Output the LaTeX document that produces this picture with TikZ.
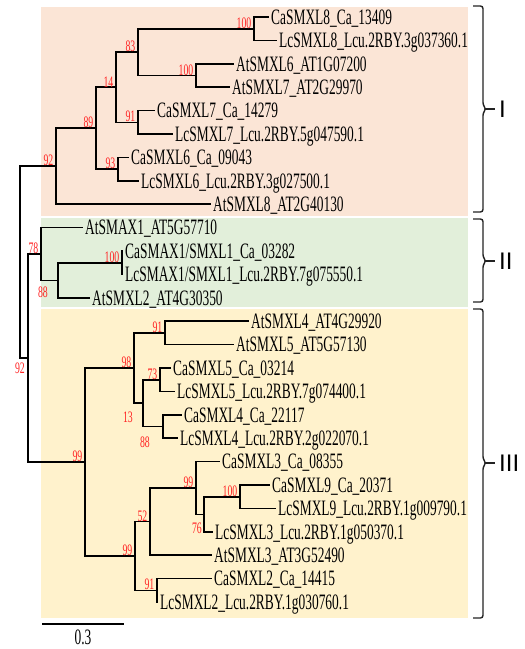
\documentclass[tikz,border=0pt]{standalone}
\usepackage{fontspec}
\setmainfont[FakeStretch=0.61]{Liberation Serif}
\newfontfamily\cladefont{Liberation Sans}
\usepackage{tikz}
\usetikzlibrary{positioning}
\definecolor{cladeIfill}{RGB}{251,229,214}
\definecolor{cladeIIfill}{RGB}{226,239,218}
\definecolor{cladeIIIfill}{RGB}{255,242,204}
\definecolor{bootred}{RGB}{255,35,35}
\definecolor{bracegray}{RGB}{35,35,35}
\newcommand{\leafsize}{\fontsize{22}{22}\selectfont}
\newcommand{\bootsize}{\fontsize{16}{16}\selectfont}
\tikzset{
leaf/.style = {anchor=west, inner xsep=2pt, inner ysep=0pt, text height=14.5pt, text depth=0pt, font=\leafsize},
tmp/.style = {coordinate},
branch/.style = {draw, line width=1.6pt},
boot/.style = {text=bootred, font=\bootsize, inner sep=0pt},
bse/.style = {boot, anchor=south east, xshift=-2.5pt},
bne/.style = {boot, anchor=north east},
bracket/.style = {draw=bracegray, line width=1.4pt, rounded corners=2.5pt},
cladename/.style = {font=\cladefont\fontsize{24}{24}\selectfont, inner sep=0pt, anchor=west}
}

\begin{document}
\begin{tikzpicture}[x=1pt, y=-1pt]
    \useasboundingbox (0,0) rectangle (525,649);
    % We start by shading the three clades
    \fill [cladeIfill] (41,7) rectangle (468,216);
    \fill [cladeIIfill] (41,218) rectangle (468,307);
    \fill [cladeIIIfill] (41,309) rectangle (468,618);

    % leaves
    \node [leaf] (CaSMXL8) at (269,17) {CaSMXL8\_Ca\_13409};
    \node [leaf] (LcSMXL8) at (277,40.4) {LcSMXL8\_Lcu.2RBY.3g037360.1};
    \node [leaf] (AtSMXL6) at (234,63.8) {AtSMXL6\_AT1G07200};
    \node [leaf] (AtSMXL7) at (230,87.2) {AtSMXL7\_AT2G29970};
    \node [leaf] (CaSMXL7) at (155,110.6) {CaSMXL7\_Ca\_14279};
    \node [leaf] (LcSMXL7) at (173,134) {LcSMXL7\_Lcu.2RBY.5g047590.1};
    \node [leaf] (CaSMXL6) at (129,157.4) {CaSMXL6\_Ca\_09043};
    \node [leaf] (LcSMXL6) at (139,180.8) {LcSMXL6\_Lcu.2RBY.3g027500.1};
    \node [leaf] (AtSMXL8) at (211,204.2) {AtSMXL8\_AT2G40130};
    \node [leaf] (AtSMAX1) at (83,227.6) {AtSMAX1\_AT5G57710};
    \node [leaf] (CaSMAX1) at (123,251) {CaSMAX1/SMXL1\_Ca\_03282};
    \node [leaf] (LcSMAX1) at (123,274.4) {LcSMAX1/SMXL1\_Lcu.2RBY.7g075550.1};
    \node [leaf] (AtSMXL2) at (90,297.8) {AtSMXL2\_AT4G30350};
    \node [leaf] (AtSMXL4) at (249,321.2) {AtSMXL4\_AT4G29920};
    \node [leaf] (AtSMXL5) at (234,344.6) {AtSMXL5\_AT5G57130};
    \node [leaf] (CaSMXL5) at (171,368) {CaSMXL5\_Ca\_03214};
    \node [leaf] (LcSMXL5) at (175,391.4) {LcSMXL5\_Lcu.2RBY.7g074400.1};
    \node [leaf] (CaSMXL4) at (182,414.8) {CaSMXL4\_Ca\_22117};
    \node [leaf] (LcSMXL4) at (178,438.2) {LcSMXL4\_Lcu.2RBY.2g022070.1};
    \node [leaf] (CaSMXL3) at (220,461.6) {CaSMXL3\_Ca\_08355};
    \node [leaf] (CaSMXL9) at (270,485) {CaSMXL9\_Ca\_20371};
    \node [leaf] (LcSMXL9) at (276,508.4) {LcSMXL9\_Lcu.2RBY.1g009790.1};
    \node [leaf] (LcSMXL3) at (213,531.8) {LcSMXL3\_Lcu.2RBY.1g050370.1};
    \node [leaf] (AtSMXL3) at (212,555.2) {AtSMXL3\_AT3G52490};
    \node [leaf] (CaSMXL2) at (212,578.6) {CaSMXL2\_Ca\_14415};
    \node [leaf] (LcSMXL2) at (158,602) {LcSMXL2\_Lcu.2RBY.1g030760.1};

    % inner nodes of the tree
    \node [tmp] (root) at (20,262) {};
    \node [tmp] (I92) at (56,166.2) {};
    \node [tmp] (I89) at (96,128.2) {};
    \node [tmp] (I14) at (116,87.2) {};
    \node [tmp] (I83) at (138,52.1) {};
    \node [tmp] (I100a) at (254,28.7) {};
    \node [tmp] (I100b) at (196,75.5) {};
    \node [tmp] (I91) at (138,122.3) {};
    \node [tmp] (I93) at (118,169.1) {};
    \node [tmp] (n92) at (28,358) {};
    \node [tmp] (II78) at (41,254) {};
    \node [tmp] (II88) at (58,280.3) {};
    \node [tmp] (II100) at (122,262.7) {};
    \node [tmp] (III99a) at (85,462) {};
    \node [tmp] (III98) at (134,368) {};
    \node [tmp] (III91a) at (165,332.9) {};
    \node [tmp] (III13) at (143,403.1) {};
    \node [tmp] (III73) at (160,379.7) {};
    \node [tmp] (III88) at (163,426.5) {};
    \node [tmp] (III99b) at (135,556) {};
    \node [tmp] (III52) at (150,521.6) {};
    \node [tmp] (III99c) at (196,488) {};
    \node [tmp] (III76) at (204,514.3) {};
    \node [tmp] (III100) at (240,496.7) {};
    \node [tmp] (III91b) at (157,590.3) {};

    % branches
    \draw [branch] (root) |- (I92) (root) |- (n92);
    \draw [branch] (I92) |- (I89) (I92) |- (AtSMXL8.west);
    \draw [branch] (I89) |- (I14) (I89) |- (I93);
    \draw [branch] (I14) |- (I83) (I14) |- (I91);
    \draw [branch] (I83) |- (I100a) (I83) |- (I100b);
    \draw [branch] (I100a) |- (CaSMXL8.west) (I100a) |- (LcSMXL8.west);
    \draw [branch] (I100b) |- (AtSMXL6.west) (I100b) |- (AtSMXL7.west);
    \draw [branch] (I91) |- (CaSMXL7.west) (I91) |- (LcSMXL7.west);
    \draw [branch] (I93) |- (CaSMXL6.west) (I93) |- (LcSMXL6.west);
    \draw [branch] (n92) |- (II78) (n92) |- (III99a);
    \draw [branch] (II78) |- (AtSMAX1.west) (II78) |- (II88);
    \draw [branch] (II88) |- (II100) (II88) |- (AtSMXL2.west);
    \draw [branch] (II100) |- (CaSMAX1.west) (II100) |- (LcSMAX1.west);
    \draw [branch] (III99a) |- (III98) (III99a) |- (III99b);
    \draw [branch] (III98) |- (III91a) (III98) |- (III13);
    \draw [branch] (III91a) |- (AtSMXL4.west) (III91a) |- (AtSMXL5.west);
    \draw [branch] (III13) |- (III73) (III13) |- (III88);
    \draw [branch] (III73) |- (CaSMXL5.west) (III73) |- (LcSMXL5.west);
    \draw [branch] (III88) |- (CaSMXL4.west) (III88) |- (LcSMXL4.west);
    \draw [branch] (III99b) |- (III52) (III99b) |- (III91b);
    \draw [branch] (III52) |- (III99c) (III52) |- (AtSMXL3.west);
    \draw [branch] (III99c) |- (CaSMXL3.west) (III99c) |- (III76);
    \draw [branch] (III76) |- (III100) (III76) |- (LcSMXL3.west);
    \draw [branch] (III100) |- (CaSMXL9.west) (III100) |- (LcSMXL9.west);
    \draw [branch] (III91b) |- (CaSMXL2.west) (III91b) |- (LcSMXL2.west);

    % bootstrap values
    \node [bse] (bI92) at (I92) {92};
    \node [bse] (bI89) at (I89) {89};
    \node [bse] (bI14) at (I14) {14};
    \node [bse] (bI83) at (I83) {83};
    \node [bse] (bI100a) at (I100a) {100};
    \node [bse] (bI100b) at (I100b) {100};
    \node [bse] (bI91) at (I91) {91};
    \node [bse] (bI93) at (I93) {93};
    \node [bne] (bn92) at (25,363) {92};
    \node [bse] (bII78) at (II78) {78};
    \node [bne] (bII88) at (48,287) {88};
    \node [bse] (bII100) at (II100) {100};
    \node [bse] (bIII99a) at (III99a) {99};
    \node [bse] (bIII98) at (III98) {98};
    \node [bse] (bIII91a) at (III91a) {91};
    \node [bne] (bIII13) at (133,412) {13};
    \node [bse] (bIII73) at (III73) {73};
    \node [bne] (bIII88) at (150,437) {88};
    \node [bse] (bIII99b) at (III99b) {99};
    \node [bse] (bIII52) at (III52) {52};
    \node [bse] (bIII99c) at (III99c) {99};
    \node [bne] (bIII76) at (202,523) {76};
    \node [bse] (bIII100) at (III100) {100};
    \node [bse] (bIII91b) at (III91b) {91};

    % clade brackets
    \coordinate (tickI) at (495,109);
    \coordinate (tickII) at (495,261);
    \coordinate (tickIII) at (495,463);
    \draw [bracket] (473,6) -- (483,6) -- (483,105) -- (486,109) -- (483,113) -- (483,212) -- (473,212);
    \draw [bracket] (473,219) -- (483,219) -- (483,257) -- (486,261) -- (483,265) -- (483,302) -- (473,302);
    \draw [bracket] (473,309) -- (483,309) -- (483,459) -- (486,463) -- (483,467) -- (483,618) -- (473,618);
    \draw [bracket] (485,109) -- (tickI);
    \draw [bracket] (485,261) -- (tickII);
    \draw [bracket] (485,463) -- (tickIII);
    \node [cladename, right=4pt of tickI] (cladeI) {I};
    \node [cladename, right=4pt of tickII] (cladeII) {II};
    \node [cladename, right=4pt of tickIII] (cladeIII) {III};

    % scale bar
    \coordinate (sbL) at (42,624);
    \coordinate (sbR) at (124,624);
    \draw [line width=1.4pt] (sbL) -- node [below=5pt, font=\leafsize, inner sep=0pt, text height=14.5pt] (sblabel) {0.3} (sbR);
\end{tikzpicture}
\end{document}
